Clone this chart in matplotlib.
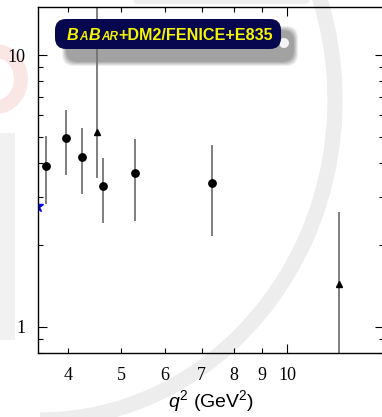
import matplotlib
matplotlib.use("Agg")
import matplotlib.pyplot as plt
from matplotlib.patches import Arc, FancyBboxPatch, Rectangle, Circle
from matplotlib.transforms import IdentityTransform
from matplotlib.offsetbox import TextArea, HPacker, AnnotationBbox
from matplotlib.ticker import FixedLocator, NullFormatter, FixedFormatter

plt.rcParams['mathtext.fontset'] = 'custom'
plt.rcParams['mathtext.rm'] = 'Liberation Sans'
plt.rcParams['mathtext.it'] = 'Liberation Sans:italic'

# -----------------------
# DATA
# -----------------------
# BaBar points (circles)
q2_babar = [3.65, 3.97, 4.24, 4.63, 5.29, 7.31]
r_babar = [3.91, 4.95, 4.22, 3.30, 3.68, 3.38]
r_babar_hi = [5.04, 6.28, 5.39, 4.18, 4.91, 4.67]
r_babar_lo = [2.83, 3.62, 3.08, 2.41, 2.45, 2.16]

# DM2/FENICE/E835 points (triangles)
q2_other = [4.52, 12.43]
r_other = [5.21, 1.44]
r_other_hi = [20.0, 2.65]
r_other_lo = [3.54, 0.5]

# threshold point (star)
q2_thr = [3.52]
r_thr = [2.79]

x_minor_ticks = [4, 5, 6, 7, 8, 9]
x_minor_labels = ['4', '5', '6', '7', '8', '9']
x_major_ticks = [10]
y_major_ticks = [1, 10]
y_minor_ticks = [0.8, 0.9, 2, 3, 4, 5, 6, 7, 8, 9]

# -----------------------
# FIGURE
# -----------------------
fig = plt.figure(figsize=(3.82, 4.17), dpi=100)
px = IdentityTransform()

# faint background logo
fig.add_artist(Arc((40, 317), 590, 640, theta1=-90, theta2=40, lw=11,
                   color='#ededed', transform=px, zorder=-2))
fig.add_artist(Arc((-4, 338), 50, 56, theta1=-90, theta2=90, lw=10,
                   color='#fbe6e6', transform=px, zorder=-2))
fig.add_artist(Rectangle((0, 77), 15, 207, color='#f1f1f1', transform=px,
                         zorder=-2, lw=0))
fig.add_artist(FancyBboxPatch((133, 413), 177, 10, color='#eeeeee',
                              boxstyle='round,pad=0,rounding_size=5',
                              transform=px, zorder=-2, lw=0))

ax = fig.add_axes([38 / 382, 64 / 417, 346 / 382, 345.8 / 417])
ax.set_facecolor('none')

ax.set_xscale('log')
ax.set_yscale('log')
ax.set_xlim(3.53, 15)
ax.set_ylim(0.8, 15)

err_kw = dict(ls='none', ecolor='#707070', elinewidth=1.25, capsize=0)
ax.errorbar(q2_babar, r_babar,
            yerr=[[v - l for v, l in zip(r_babar, r_babar_lo)],
                  [h - v for v, h in zip(r_babar, r_babar_hi)]],
            marker='o', ms=5.3, mfc='black', mec='black', **err_kw)
ax.errorbar(q2_other, r_other,
            yerr=[[v - l for v, l in zip(r_other, r_other_lo)],
                  [h - v for v, h in zip(r_other, r_other_hi)]],
            marker='^', ms=5.0, mfc='black', mec='black', **err_kw)
ax.plot(q2_thr, r_thr, ls='none', marker='*', ms=9, color='blue')

# ticks
ax.xaxis.set_major_locator(FixedLocator(x_major_ticks))
ax.xaxis.set_minor_locator(FixedLocator(x_minor_ticks))
ax.xaxis.set_minor_formatter(FixedFormatter(x_minor_labels))
ax.yaxis.set_major_locator(FixedLocator(y_major_ticks))
ax.yaxis.set_minor_locator(FixedLocator(y_minor_ticks))
ax.yaxis.set_minor_formatter(NullFormatter())
ax.set_xticklabels(['10'])
ax.set_yticklabels(['1', '10'])

ax.tick_params(which='both', direction='in', top=True, right=True,
               width=0.8, colors='black')
ax.tick_params(which='major', length=6.5)
ax.tick_params(which='minor', length=3.5)
ax.tick_params(axis='x', which='both', pad=10)
ax.tick_params(axis='y', which='both', pad=9)
for lab in ax.get_xticklabels(which='both') + ax.get_yticklabels(which='both'):
    lab.set_fontfamily('Liberation Serif')
    lab.set_fontsize(13)
for sp in ax.spines.values():
    sp.set_linewidth(1.0)

ax.set_xlabel(r'$q^2$ (GeV$^2$)', fontfamily='Liberation Sans', fontsize=14,
              labelpad=3)

# -----------------------
# LEGEND BOX
# -----------------------
for i, a in enumerate([0.10, 0.12, 0.14, 0.16, 0.18]):
    g = 5 - i
    fig.add_artist(FancyBboxPatch((67 - g, 356 - g), 226 + 2 * g, 30 + 2 * g,
                                  boxstyle='round,pad=0,rounding_size=12',
                                  color='#555555', alpha=a, lw=0,
                                  transform=px, zorder=-1))
fig.add_artist(Circle((284, 374), 5, color='#f4f4f4', transform=px,
                      zorder=-0.5, lw=0))
fig.add_artist(FancyBboxPatch((55, 368), 226, 30,
                              boxstyle='round,pad=0,rounding_size=11',
                              color='#07074f', lw=0, transform=px, zorder=3))

yellow = '#f5f500'
pieces = [('B', 11.6, 'italic'), ('A', 8.5, 'italic'), ('B', 11.6, 'italic'),
          ('AR', 8.5, 'italic'), ('+DM2/FENICE+E835', 11.6, 'normal')]
areas = [TextArea(s, textprops=dict(color=yellow, fontsize=fs, fontweight='bold',
                                    fontstyle=st, fontfamily='Liberation Sans'))
         for s, fs, st in pieces]
pack = HPacker(children=areas, align='baseline', pad=0, sep=0.5)
ab = AnnotationBbox(pack, (67, 374.5), xycoords='figure pixels',
                    box_alignment=(0, 0), frameon=False, pad=0, zorder=4)
fig.add_artist(ab)

fig.savefig('out.png', dpi=100)
